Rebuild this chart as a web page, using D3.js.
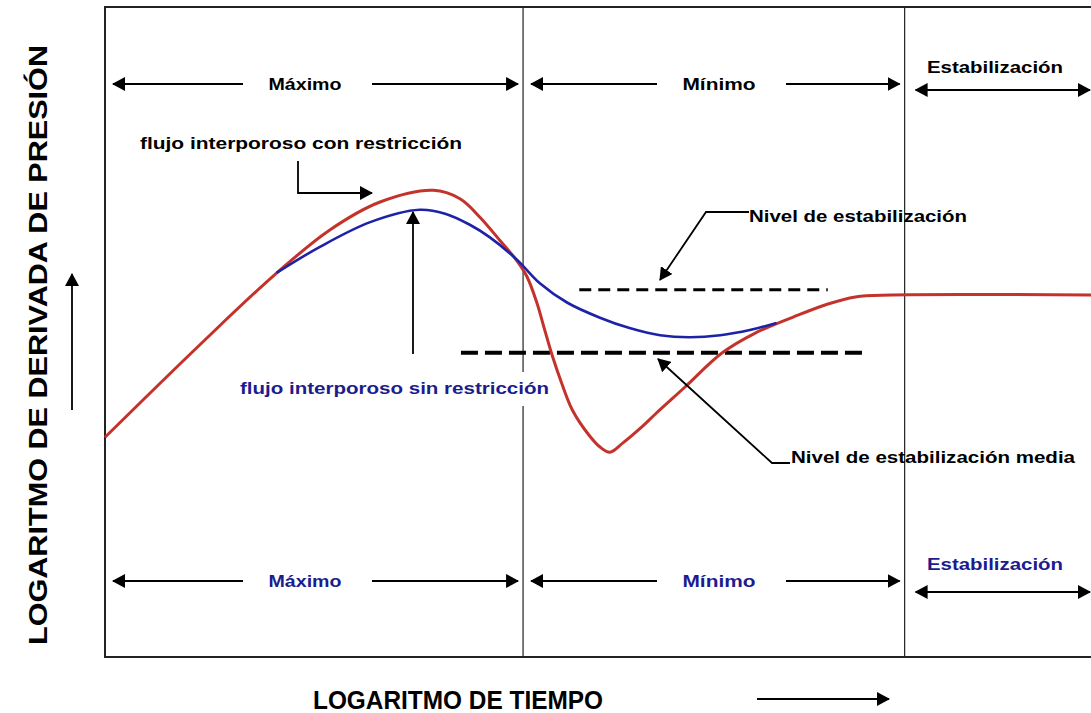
<!DOCTYPE html>
<html>
<head>
<meta charset="utf-8">
<script src="https://cdn.jsdelivr.net/npm/d3@7"></script>
<style>
  body { margin: 0; background: #fff; }
  svg { display: block; }
  text { font-family: "Liberation Sans", Arial, sans-serif; font-weight: bold; }
</style>
</head>
<body>
<svg id="chart" width="1091" height="713"></svg>
<script>
// log time (x) vs log pressure derivative (y), arbitrary units 0..10
var redX  = [0, 0.96, 1.72, 2.28, 2.79, 3.33, 3.60, 3.80, 4.01, 4.18, 4.28, 4.38, 4.46, 4.54, 4.63, 4.74, 4.89, 5.02, 5.12, 5.25, 5.43, 5.59, 5.88, 6.26, 6.59, 6.98, 7.31, 7.61, 7.98, 10];
var redY  = [3.38, 4.80, 5.88, 6.57, 7.00, 7.18, 7.05, 6.77, 6.40, 6.09, 5.85, 5.45, 5.03, 4.62, 4.22, 3.80, 3.45, 3.23, 3.15, 3.29, 3.52, 3.75, 4.15, 4.68, 4.98, 5.23, 5.42, 5.54, 5.57, 5.57];
var blueX = [1.74, 2.18, 2.69, 3.19, 3.45, 3.70, 3.90, 4.18, 4.41, 4.69, 5.02, 5.32, 5.63, 5.93, 6.24, 6.54, 6.81];
var blueY = [5.91, 6.31, 6.69, 6.88, 6.82, 6.65, 6.46, 6.11, 5.75, 5.45, 5.22, 5.06, 4.95, 4.92, 4.95, 5.03, 5.14];

// stabilization levels: [y, xStart, xEnd]
var levelStab  = [5.65, 4.81, 7.33];
var levelMedia = [4.68, 3.61, 7.73];

// region boundaries and names
var dividers = [4.24, 8.11];
var regions  = ["Máximo", "Mínimo", "Estabilización"];

var svg = d3.select("#chart");
var x = d3.scaleLinear().domain([0, 10]).range([105, 1091]);
var y = d3.scaleLinear().domain([0, 10]).range([657, 7]);

var blueText = "#1c1c8e";

// arrowhead marker
var defs = svg.append("defs");
defs.append("marker")
  .attr("id", "ah")
  .attr("viewBox", "0 0 13 14")
  .attr("refX", 12).attr("refY", 7)
  .attr("markerWidth", 13).attr("markerHeight", 14)
  .attr("markerUnits", "userSpaceOnUse")
  .attr("orient", "auto-start-reverse")
  .append("path").attr("d", "M0,0 L13,7 L0,14 Z").attr("fill", "#000");

function arrow(pts, both){
  var p = svg.append("path")
    .attr("d", d3.line()(pts))
    .attr("fill", "none").attr("stroke", "#000").attr("stroke-width", 1.8)
    .attr("marker-end", "url(#ah)");
  if(both) p.attr("marker-start", "url(#ah)");
  return p;
}

// frame
svg.append("path")
  .attr("d", d3.line()([[x(10), y(10)], [x(0), y(10)], [x(0), y(0)], [x(10), y(0)]]))
  .attr("fill", "none").attr("stroke", "#222").attr("stroke-width", 2);
dividers.forEach(function(d){
  svg.append("line")
    .attr("x1", x(d)).attr("x2", x(d)).attr("y1", y(10)).attr("y2", y(0))
    .attr("stroke", "#222").attr("stroke-width", 1.2);
});

// region arrows (top black, bottom blue)
var bounds = [0, dividers[0], dividers[1], 10];
var labelCenters = [305, 719];
function regionRow(yArrow, color, yEst, yEstArrow){
  for(var i = 0; i < 2; i++){
    var a = x(bounds[i]) + 8, b = x(bounds[i+1]) - 5;
    var c = labelCenters[i];
    arrow([[c - 62, yArrow], [a, yArrow]]);
    arrow([[c + 67, yArrow], [b, yArrow]]);
    svg.append("text").attr("x", c).attr("y", yArrow + 6)
      .attr("text-anchor", "middle").attr("font-size", 16).attr("fill", color)
      .attr("textLength", 73).attr("lengthAdjust", "spacingAndGlyphs")
      .text(regions[i]);
  }
  arrow([[x(bounds[2]) + 11, yEstArrow], [1090, yEstArrow]], true);
  svg.append("text").attr("x", 995).attr("y", yEst + 6)
    .attr("text-anchor", "middle").attr("font-size", 16).attr("fill", color)
    .attr("textLength", 136).attr("lengthAdjust", "spacingAndGlyphs")
    .text(regions[2]);
}
regionRow(84, "#000", 67, 90);
regionRow(581, blueText, 564, 592);

// level dashed lines
svg.append("line")
  .attr("x1", x(levelStab[1])).attr("x2", x(levelStab[2]))
  .attr("y1", y(levelStab[0])).attr("y2", y(levelStab[0]))
  .attr("stroke", "#000").attr("stroke-width", 3).attr("stroke-dasharray", "12,7");
svg.append("line")
  .attr("x1", x(levelMedia[1])).attr("x2", x(levelMedia[2]))
  .attr("y1", y(levelMedia[0])).attr("y2", y(levelMedia[0]))
  .attr("stroke", "#000").attr("stroke-width", 4).attr("stroke-dasharray", "17,7");

// curves
var line = d3.line()
  .x(function(d){ return x(d[0]); })
  .y(function(d){ return y(d[1]); })
  .curve(d3.curveCatmullRom.alpha(0.5));
svg.append("path")
  .attr("d", line(d3.zip(redX, redY)))
  .attr("fill", "none").attr("stroke", "#c4332b").attr("stroke-width", 3);
svg.append("path")
  .attr("d", line(d3.zip(blueX, blueY)))
  .attr("fill", "none").attr("stroke", "#1d22a6").attr("stroke-width", 2.6);

// annotations
svg.append("text").attr("x", 140).attr("y", 149).attr("font-size", 16)
  .attr("textLength", 322).attr("lengthAdjust", "spacingAndGlyphs")
  .text("flujo interporoso con restricción");
arrow([[298, 161], [298, 193], [372, 193]]);

svg.append("rect").attr("x", 236).attr("y", 372).attr("width", 318).attr("height", 34).attr("fill", "#fff");
svg.append("text").attr("x", 240).attr("y", 394).attr("font-size", 16).attr("fill", blueText)
  .attr("textLength", 309).attr("lengthAdjust", "spacingAndGlyphs")
  .text("flujo interporoso sin restricción");
arrow([[413, 354], [413, 212]]);

svg.append("text").attr("x", 749).attr("y", 222).attr("font-size", 16)
  .attr("textLength", 218).attr("lengthAdjust", "spacingAndGlyphs")
  .text("Nivel de estabilización");
arrow([[749, 212], [706, 212], [660, 280]]);

svg.append("text").attr("x", 791).attr("y", 463).attr("font-size", 16)
  .attr("textLength", 284).attr("lengthAdjust", "spacingAndGlyphs")
  .text("Nivel de estabilización media");
arrow([[790, 463], [772, 463], [658, 359]]);

// axis titles
svg.append("text")
  .attr("transform", "translate(47,345) rotate(-90)")
  .attr("text-anchor", "middle").attr("font-size", 25)
  .attr("textLength", 600).attr("lengthAdjust", "spacingAndGlyphs")
  .text("LOGARITMO DE DERIVADA DE PRESIÓN");
arrow([[72, 410], [72, 274]]);

svg.append("text").attr("x", 313).attr("y", 709).attr("font-size", 25)
  .attr("textLength", 290).attr("lengthAdjust", "spacingAndGlyphs")
  .text("LOGARITMO DE TIEMPO");
arrow([[757, 699], [889, 699]]);
</script>
</body>
</html>
